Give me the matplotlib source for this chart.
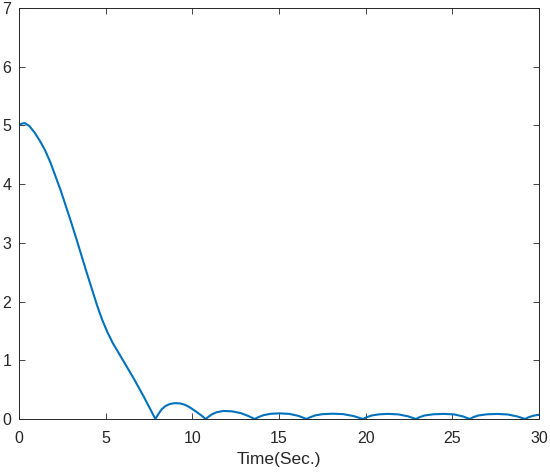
import matplotlib
matplotlib.use("Agg")
import matplotlib.pyplot as plt

# Time samples (s) and response values
time = [0.0, 0.15, 0.33, 0.6, 0.9, 1.2, 1.5, 1.8, 2.1, 2.4, 2.7, 3.0, 3.3, 3.6,
        3.9, 4.2, 4.5, 4.8, 5.1, 5.4, 5.7, 6.0, 6.3, 6.6, 6.9, 7.2, 7.5, 7.87,
        7.95, 8.1, 8.25, 8.45, 8.7, 8.98, 9.3, 9.6, 9.9, 10.2, 10.5, 10.77,
        10.9, 11.1, 11.4, 11.8, 12.3, 12.8, 13.2, 13.6,
        13.8, 14.1, 14.5, 15.0, 15.6, 16.1, 16.6,
        16.8, 17.1, 17.5, 18.1, 18.7, 19.3, 19.85,
        20.05, 20.35, 20.8, 21.3, 21.9, 22.45, 22.9,
        23.1, 23.4, 23.9, 24.5, 25.1, 25.6, 26.0,
        26.2, 26.5, 27.0, 27.6, 28.2, 28.75, 29.2,
        29.4, 29.7, 30.0]
value = [5.00, 5.03, 5.04, 4.99, 4.88, 4.74, 4.58, 4.38, 4.14, 3.90, 3.63, 3.36, 3.08, 2.79,
         2.50, 2.22, 1.94, 1.69, 1.48, 1.30, 1.15, 1.00, 0.85, 0.70, 0.54, 0.38, 0.21, 0.0,
         0.04, 0.11, 0.17, 0.22, 0.255, 0.27, 0.265, 0.24, 0.19, 0.13, 0.065, 0.0,
         0.03, 0.075, 0.115, 0.137, 0.13, 0.10, 0.055, 0.0,
         0.03, 0.065, 0.088, 0.096, 0.087, 0.055, 0.0,
         0.03, 0.062, 0.082, 0.09, 0.083, 0.05, 0.0,
         0.03, 0.06, 0.08, 0.087, 0.078, 0.045, 0.0,
         0.03, 0.06, 0.08, 0.087, 0.078, 0.045, 0.0,
         0.03, 0.06, 0.08, 0.086, 0.077, 0.043, 0.0,
         0.03, 0.058, 0.072]

x_ticks = [0, 5, 10, 15, 20, 25, 30]
y_ticks = [0, 1, 2, 3, 4, 5, 6, 7]
x_label = "Time(Sec.)"

plt.rcParams['font.family'] = ['Liberation Sans', 'DejaVu Sans']

fig = plt.figure(figsize=(5.5, 4.72), dpi=100)
ax = fig.add_axes([0.0345, 0.1123, 0.9455, 0.8707])
ax.plot(time, value, color='#0072BD', linewidth=1.5)
ax.set_xlim(0, 30)
ax.set_ylim(0, 7)
ax.set_xticks(x_ticks)
ax.set_yticks(y_ticks)
ax.tick_params(direction='in', length=4, width=0.6, colors='#262626',
               labelsize=11.5, top=True, right=True)
ax.tick_params(axis='x', pad=9)
ax.tick_params(axis='y', pad=5.5)
for s in ax.spines.values():
    s.set_color('#262626')
    s.set_linewidth(0.7)
ax.set_xlabel(x_label, fontsize=12.5, color='#262626', labelpad=4)

fig.savefig('out.png', dpi=100)
